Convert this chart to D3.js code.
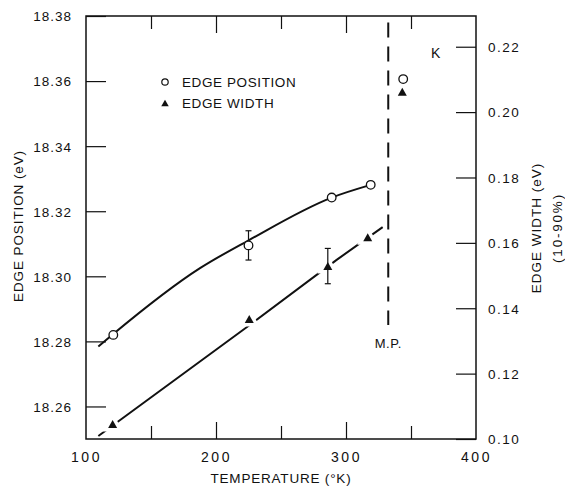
<!DOCTYPE html>
<html>
<head>
<meta charset="utf-8">
<script src="https://cdn.jsdelivr.net/npm/d3@7"></script>
<style>
  body { margin: 0; background: #fff; }
  svg text { font-family: "Liberation Sans", Arial, sans-serif; fill: #111; }
  .tick text { font-size: 13.5px; letter-spacing: 1px; }
  .tick line, .domain { stroke: #111; }
</style>
</head>
<body>
<div id="chart"></div>
<script>
// measured points (open circles = edge position, left axis)
const posTemp = [121, 225, 289, 319, 344];
const posVal  = [18.282, 18.3095, 18.3242, 18.3281, 18.3606];
const posErr  = [0, 0.0045, 0, 0, 0];

// filled triangles = edge width, right axis
const widthTemp = [120.5, 225.6, 286, 316.7, 343.3];
const widthVal  = [0.1046, 0.1367, 0.1529, 0.1617, 0.2062];
const widthErr  = [0, 0, 0.0054, 0, 0];

// hand drawn curves
const posFitTemp = [109.5, 120.5, 187.7, 224.8, 289, 319];
const posFitVal  = [18.2784, 18.2821, 18.3025, 18.311, 18.3242, 18.3281];
const widthFitTemp = [109.5, 223.6, 292.8, 328.2];
const widthFitVal  = [0.1009, 0.1342, 0.1548, 0.1648];

// melting point marker
const mpTemp = 332.5;
const mpRange = [18.285, 18.378];

const xMajor = [200, 300];
const xMinor = [150, 250, 350];
const xLabels = [100, 200, 300, 400];
const leftTicks = [18.26, 18.28, 18.30, 18.32, 18.34, 18.36, 18.38];
const rightTicks = [0.10, 0.12, 0.14, 0.16, 0.18, 0.20, 0.22];

const W = 565, H = 487;
const box = { left: 86, right: 476, top: 16, bottom: 439 };

const svg = d3.select("#chart").append("svg")
  .attr("width", W).attr("height", H);

const x = d3.scaleLinear().domain([100, 400]).range([box.left, box.right]);
const yL = d3.scaleLinear().domain([18.25, 18.38]).range([box.bottom, box.top]);
const yR = d3.scaleLinear().domain([0.10, 0.2294]).range([box.bottom, box.top]);

// frame
svg.append("rect")
  .attr("x", box.left).attr("y", box.top)
  .attr("width", box.right - box.left).attr("height", box.bottom - box.top)
  .attr("fill", "none").attr("stroke", "#111").attr("stroke-width", 1.5);

function addAxis(axis, tx, ty) {
  const g = svg.append("g")
    .attr("transform", `translate(${tx},${ty})`)
    .call(axis);
  g.select(".domain").remove();
  g.selectAll(".tick line").attr("stroke-width", 1.2);
  return g;
}

// bottom / top ticks (inward)
addAxis(d3.axisBottom(x).tickValues(xMajor).tickSize(-17).tickFormat(""), 0, box.bottom);
addAxis(d3.axisBottom(x).tickValues(xMinor).tickSize(-13).tickFormat(""), 0, box.bottom);
addAxis(d3.axisTop(x).tickValues(xMajor).tickSize(-17).tickFormat(""), 0, box.top);
addAxis(d3.axisTop(x).tickValues(xMinor).tickSize(-13).tickFormat(""), 0, box.top);
addAxis(d3.axisBottom(x).tickValues(xLabels).tickSize(0).tickPadding(13).tickFormat(d3.format("d")), 0, box.bottom)
  .selectAll("text").style("font-size", "14px").style("letter-spacing", "2.5px");

addAxis(d3.axisLeft(yL).tickValues(leftTicks).tickSize(-20).tickPadding(14).tickFormat(d3.format(".2f")), box.left, 0)
  .selectAll("text").attr("dy", "0.36em");
addAxis(d3.axisRight(yR).tickValues(rightTicks).tickSize(-20).tickPadding(12).tickFormat(d3.format(".2f")), box.right, 0)
  .selectAll("text").attr("dy", "0.36em").style("letter-spacing", "1.5px");

// axis titles
svg.append("text")
  .attr("x", 281).attr("y", 483)
  .attr("text-anchor", "middle")
  .style("font-size", "13.5px").style("letter-spacing", "0.8px")
  .text("TEMPERATURE (°K)");

svg.append("text")
  .attr("transform", "translate(23,226)rotate(-90)")
  .attr("text-anchor", "middle")
  .style("font-size", "13.5px").style("letter-spacing", "0.9px")
  .text("EDGE POSITION (eV)");

svg.append("text")
  .attr("transform", "translate(541,228)rotate(-90)")
  .attr("text-anchor", "middle")
  .style("font-size", "13.5px").style("letter-spacing", "1px")
  .text("EDGE WIDTH (eV)");

svg.append("text")
  .attr("transform", "translate(562,228)rotate(-90)")
  .attr("text-anchor", "middle")
  .style("font-size", "13.5px").style("letter-spacing", "1.8px")
  .text("(10-90%)");

// melting point
svg.append("line")
  .attr("x1", x(mpTemp)).attr("x2", x(mpTemp))
  .attr("y1", yL(mpRange[1])).attr("y2", yL(mpRange[0]))
  .attr("stroke", "#111").attr("stroke-width", 2)
  .attr("stroke-dasharray", "15,9");

svg.append("text")
  .attr("x", x(mpTemp)).attr("y", 348)
  .attr("text-anchor", "middle")
  .style("font-size", "13px").style("letter-spacing", "0.5px")
  .text("M.P.");

svg.append("text")
  .attr("x", 431).attr("y", 58)
  .style("font-size", "14px")
  .text("K");

// fitted curves
const posFit = posFitTemp.map((t, i) => ({ t, v: posFitVal[i] }));
const widthFit = widthFitTemp.map((t, i) => ({ t, v: widthFitVal[i] }));

svg.append("path")
  .datum(posFit)
  .attr("fill", "none").attr("stroke", "#111").attr("stroke-width", 2)
  .attr("d", d3.line().x(d => x(d.t)).y(d => yL(d.v)).curve(d3.curveMonotoneX));

svg.append("path")
  .datum(widthFit)
  .attr("fill", "none").attr("stroke", "#111").attr("stroke-width", 2)
  .attr("d", d3.line().x(d => x(d.t)).y(d => yR(d.v)));

function tri(w, h) {
  return `M0,${-h / 2}L${w / 2},${h / 2}L${-w / 2},${h / 2}Z`;
}

const widthPts = widthTemp.map((t, i) => ({ t, v: widthVal[i], e: widthErr[i] }));
const posPts = posTemp.map((t, i) => ({ t, v: posVal[i], e: posErr[i] }));

// white halo breaks the dashed line around each triangle
svg.selectAll(".halo").data(widthPts).join("path")
  .attr("class", "halo")
  .attr("transform", d => `translate(${x(d.t)},${yR(d.v)})`)
  .attr("d", tri(9, 8))
  .attr("fill", "#fff").attr("stroke", "#fff").attr("stroke-width", 7);

// error bars
function errorBars(data, y) {
  const g = svg.append("g").attr("stroke", "#111").attr("stroke-width", 1.2);
  data.filter(d => d.e > 0).forEach(d => {
    const cx = x(d.t), y0 = y(d.v - d.e), y1 = y(d.v + d.e);
    g.append("line").attr("x1", cx).attr("x2", cx).attr("y1", y0).attr("y2", y1);
    g.append("line").attr("x1", cx - 3).attr("x2", cx + 3).attr("y1", y0).attr("y2", y0);
    g.append("line").attr("x1", cx - 3).attr("x2", cx + 3).attr("y1", y1).attr("y2", y1);
  });
}
errorBars(posPts, yL);
errorBars(widthPts, yR);

svg.selectAll(".tri").data(widthPts).join("path")
  .attr("class", "tri")
  .attr("transform", d => `translate(${x(d.t)},${yR(d.v)})`)
  .attr("d", tri(9, 8))
  .attr("fill", "#111");

svg.selectAll(".circ").data(posPts).join("circle")
  .attr("class", "circ")
  .attr("cx", d => x(d.t)).attr("cy", d => yL(d.v))
  .attr("r", 4.3)
  .attr("fill", "#fff").attr("stroke", "#111").attr("stroke-width", 1.3);

// legend
const legend = svg.append("g");
legend.append("circle")
  .attr("cx", 165).attr("cy", 82).attr("r", 3.2)
  .attr("fill", "#fff").attr("stroke", "#111").attr("stroke-width", 1.2);
legend.append("path")
  .attr("transform", "translate(165,103)")
  .attr("d", tri(7.5, 6.5)).attr("fill", "#111");
legend.append("text").attr("x", 182).attr("y", 87)
  .style("font-size", "13.5px").style("letter-spacing", "0.6px")
  .text("EDGE POSITION");
legend.append("text").attr("x", 182).attr("y", 108)
  .style("font-size", "13.5px").style("letter-spacing", "0.6px")
  .text("EDGE WIDTH");
</script>
</body>
</html>
